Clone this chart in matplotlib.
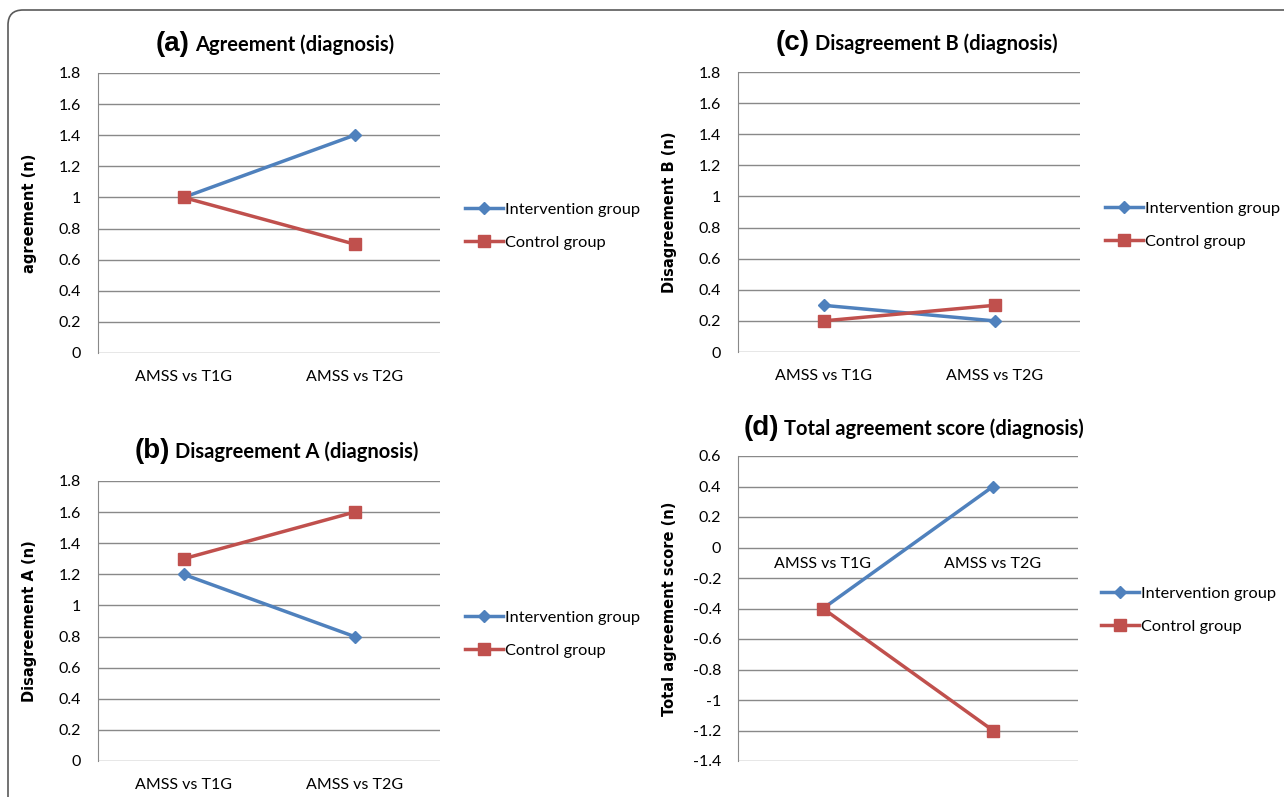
import matplotlib
matplotlib.use("Agg")
import matplotlib.pyplot as plt
from matplotlib.patches import FancyBboxPatch

# data
categories = ['AMSS vs T1G', 'AMSS vs T2G']
series_names = ['Intervention group', 'Control group']

agree_int = [1.0, 1.4]
agree_ctl = [1.0, 0.7]
disA_int = [1.2, 0.8]
disA_ctl = [1.3, 1.6]
disB_int = [0.3, 0.2]
disB_ctl = [0.2, 0.3]
total_int = [-0.4, 0.4]
total_ctl = [-0.4, -1.2]

BLUE = '#4F81BD'
RED = '#C0504D'
GRID = '#898989'
TXT_FONT = ['Lato', 'DejaVu Sans']

W, H = 1284, 797
fig = plt.figure(figsize=(W / 100, H / 100), dpi=100)
fig.patch.set_facecolor('white')

# rounded frame around the whole figure (runs off right / bottom edge)
frame = FancyBboxPatch((0.08, -1.0), 14.0, 8.87, boxstyle='round,pad=0,rounding_size=0.15',
                       transform=fig.dpi_scale_trans, fill=False, edgecolor='#5a5a5a',
                       linewidth=1.2)
fig.patches.append(frame)


def px_axes(left, right, top, bottom):
    return fig.add_axes([left / W, 1 - bottom / H, (right - left) / W, (bottom - top) / H])


def panel(ax, yint, yctl, ylim, ylabel, letter, title, title_x, legend_xy, cat_at_zero=False):
    x = [0.5, 1.5]
    ax.plot(x, yint, color=BLUE, lw=2.5, marker='D', ms=6.5, zorder=3, label=series_names[0])
    ax.plot(x, yctl, color=RED, lw=2.5, marker='s', ms=8.5, zorder=4, label=series_names[1])
    ax.set_xlim(0, 2)
    ax.set_ylim(*ylim)
    ticks = [round(ylim[0] + 0.2 * i, 1) for i in range(int(round((ylim[1] - ylim[0]) / 0.2)) + 1)]
    ax.set_yticks(ticks)
    ax.set_yticklabels(['%g' % t for t in ticks], fontfamily=TXT_FONT, fontsize=11.5)
    ax.yaxis.grid(True, color=GRID, lw=1)
    ax.set_axisbelow(True)
    for s in ['top', 'right', 'bottom']:
        ax.spines[s].set_visible(False)
    ax.spines['left'].set_color(GRID)
    ax.tick_params(axis='y', length=0, pad=12)
    ax.set_xticks([])
    for xi, c in zip(x, categories):
        if cat_at_zero:
            ax.annotate(c, (xi, 0), xytext=(0, -7), textcoords='offset points', ha='center',
                        va='top', fontfamily=TXT_FONT, fontsize=11.5)
        else:
            ax.annotate(c, (xi, ylim[0]), xytext=(0, -12), textcoords='offset points',
                        ha='center', va='top', fontfamily=TXT_FONT, fontsize=11.5)
    ax.set_ylabel(ylabel, fontfamily='DejaVu Sans', fontweight='bold', fontsize=10.5)
    ax.yaxis.set_label_coords(-0.178, 0.5)
    # title: bigger "(x)" plus bold text
    tx, ty = title_x
    fig.text(tx / W, 1 - ty / H, letter, fontfamily='Liberation Sans', fontweight='bold',
             fontsize=20, ha='right', va='center')
    fig.text((tx + 5) / W, 1 - (ty + 1) / H, title, fontfamily=TXT_FONT, fontweight='bold',
             fontsize=14.5, ha='left', va='center')
    lx, ly = legend_xy
    fig.legend(handles=ax.get_lines(), loc='center left', bbox_to_anchor=(lx / W, 1 - ly / H),
               frameon=False, prop={'family': TXT_FONT, 'size': 11.8}, handlelength=2.3,
               handletextpad=0.12, labelspacing=1.15, borderpad=0, borderaxespad=0)


ax_a = px_axes(98, 440, 73, 353)
panel(ax_a, agree_int, agree_ctl, (0, 1.8), 'agreement (n)', '(a)', 'Agreement (diagnosis)',
      (190, 44), (465, 226))

ax_b = px_axes(98, 440, 481, 761)
panel(ax_b, disA_int, disA_ctl, (0, 1.8), 'Disagreement A (n)', '(b)', 'Disagreement A (diagnosis)',
      (170, 451), (465, 634))

ax_c = px_axes(738, 1080, 72, 352)
panel(ax_c, disB_int, disB_ctl, (0, 1.8), 'Disagreement B (n)', '(c)', 'Disagreement B (diagnosis)',
      (810, 43), (1105, 225))

ax_d = px_axes(738, 1078, 456, 761)
panel(ax_d, total_int, total_ctl, (-1.4, 0.6), 'Total agreement score (n)', '(d)',
      'Total agreement score (diagnosis)', (779, 428), (1101, 610), cat_at_zero=True)

fig.savefig('out.png', dpi=100)
